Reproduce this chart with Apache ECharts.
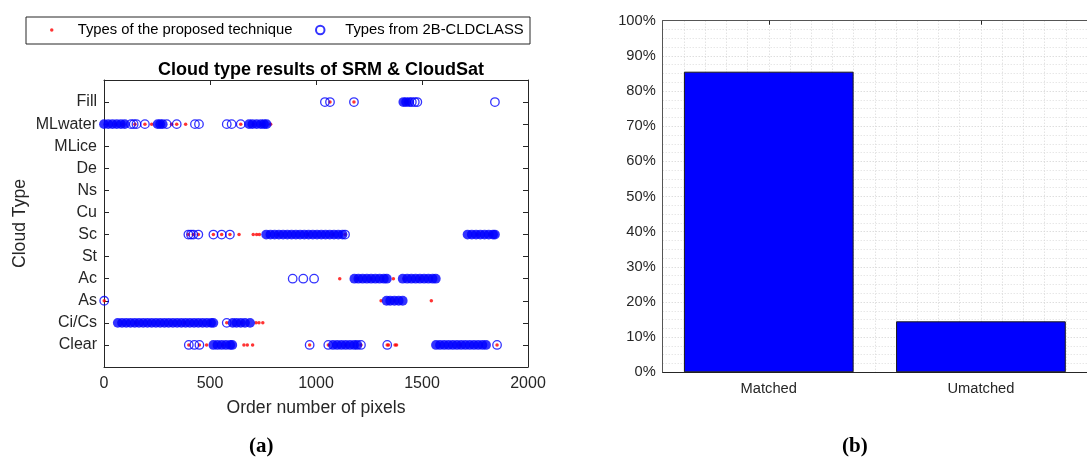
<!DOCTYPE html>
<html><head><meta charset="utf-8">
<script src="https://cdn.jsdelivr.net/npm/echarts@6/dist/echarts.min.js"></script>
<style>html,body{margin:0;padding:0;background:#fff}#c{width:1087px;height:462px}</style>
</head><body><div id="c"></div>
<script>
// ---------- Panel (a) data ----------
const cloudTypes = ['Clear', 'Ci/Cs', 'As', 'Ac', 'St', 'Sc', 'Cu', 'Ns', 'De', 'MLice', 'MLwater', 'Fill'];
const xTicks = [0, 500, 1000, 1500, 2000];

// Types of the proposed technique (red dots): pixel order numbers per type
const propClear   = [400, 450, 484, 560, 660, 676, 701, 970, 1058, 1140, 1212, 1336, 1342, 1373, 1380, 1680, 1854];
const propCiCs    = [150, 380, 579, 650, 717, 731, 749];
const propAs      = [1, 1307, 1370, 1544];
const propAc      = [1112, 1192, 1260, 1365, 1415, 1490];
const propSc      = [398, 421, 445, 516, 555, 594, 637, 704, 720, 733, 820, 960, 1080, 1137, 1760, 1820];
const propMLwater = [15, 55, 90, 146, 193, 225, 267, 319, 343, 385, 645, 705, 745, 786];
const propFill    = [1066, 1179, 1421, 1432];

// Types from 2B-CLDCLASS (blue circles), isolated pixels
const ringClear   = [400, 426, 450, 970, 1058, 1212, 1336, 1854];
const ringCiCs    = [579];
const ringAs      = [1];
const ringAc      = [890, 940, 991];
const ringSc      = [398, 410, 421, 445, 516, 555, 594, 1137];
const ringMLwater = [127, 140, 153, 193, 296, 343, 429, 448, 579, 602, 645];
const ringFill    = [1042, 1066, 1179, 1452, 1466, 1478, 1844];

// Types from 2B-CLDCLASS, densely packed runs of pixels
const denseClear   = [516, 535, 555, 575, 595, 605, 1080, 1100, 1120, 1140, 1160, 1180, 1195, 1566, 1585, 1605, 1625, 1645, 1665, 1685, 1705, 1725, 1745, 1765, 1785, 1802];
const denseCiCs    = [65, 85, 105, 125, 145, 165, 185, 205, 225, 245, 265, 285, 305, 325, 345, 365, 385, 405, 425, 445, 465, 485, 505, 516, 607, 625, 645, 665, 689];
const denseAs      = [1333, 1350, 1370, 1390, 1409];
const denseAc      = [1181, 1200, 1220, 1240, 1260, 1280, 1300, 1320, 1334, 1409, 1430, 1450, 1470, 1490, 1510, 1530, 1550, 1565];
const denseSc      = [765, 785, 805, 825, 845, 865, 885, 905, 925, 945, 965, 985, 1005, 1025, 1045, 1065, 1085, 1105, 1125, 1715, 1735, 1755, 1775, 1795, 1815, 1835, 1844];
const denseMLwater = [0, 20, 40, 60, 80, 98, 253, 265, 277, 684, 700, 720, 740, 755, 767];
const denseFill    = [1412, 1425, 1440];

// ---------- Panel (b) data ----------
const barCategories = ['Matched', 'Umatched'];
const barValues = [85.5, 14.5];
const percentTicks = [0, 10, 20, 30, 40, 50, 60, 70, 80, 90, 100];

// ---------- build ----------
const E = [];
const proposedByType = [propClear, propCiCs, propAs, propAc, E, propSc, E, E, E, E, propMLwater, propFill];
const ringByType = [ringClear, ringCiCs, ringAs, ringAc, E, ringSc, E, E, E, E, ringMLwater, ringFill];
const denseByType = [denseClear, denseCiCs, denseAs, denseAc, E, denseSc, E, E, E, E, denseMLwater, denseFill];
function toPoints(lists) {
  const pts = [];
  lists.forEach((xs, i) => xs.forEach(x => pts.push([x, i + 1])));
  return pts;
}
const FONT = 'Liberation Sans, Arial, Helvetica, sans-serif';
const AX = '#262626';
const NAME_A = 'Types of the proposed technique';
const NAME_B = 'Types from 2B-CLDCLASS';

const chart = echarts.init(document.getElementById('c'), null, {renderer: 'canvas'});
const option = {
  animation: false,
  backgroundColor: '#fff',
  textStyle: {fontFamily: FONT},
  title: {
    text: 'Cloud type results of SRM & CloudSat',
    left: 316, top: 56, textAlign: 'center',
    textStyle: {fontSize: 18, fontWeight: 'bold', color: '#000', fontFamily: FONT}
  },
  legend: [
    {data: [{name: NAME_A, icon: 'circle'}], left: 50, top: 22, padding: 0,
     itemWidth: 42, itemHeight: 3.5, symbolKeepAspect: true, selectedMode: false,
     textStyle: {fontSize: 14.8, color: '#000', fontFamily: FONT, lineHeight: 16}},
    {data: [{name: NAME_B, icon: 'circle'}], left: 315, top: 22, padding: 0,
     itemWidth: 40, itemHeight: 8.5, symbolKeepAspect: true, selectedMode: false,
     textStyle: {fontSize: 14.8, color: '#000', fontFamily: FONT, lineHeight: 16}}
  ],
  graphic: [
    {type: 'rect', left: 23.5, top: 14.5, shape: {width: 504, height: 27},
     style: {fill: 'none', stroke: AX, lineWidth: 1}, z: 10, silent: true},
    {type: 'text', left: 249, top: 436, style: {text: '(a)', font: 'bold 21px "Liberation Serif", "DejaVu Serif", serif', fill: '#000'}},
    {type: 'text', left: 842, top: 436, style: {text: '(b)', font: 'bold 21px "Liberation Serif", "DejaVu Serif", serif', fill: '#000'}}
  ],
  grid: [
    {left: 104, right: 559, top: 80, bottom: 95},
    {left: 662.7, right: -8, top: 20.7, bottom: 89.7}
  ],
  xAxis: [
    {gridIndex: 0, type: 'value', min: xTicks[0], max: xTicks[xTicks.length - 1], interval: 500, position: 'bottom',
     axisLine: {onZero: false, lineStyle: {color: AX}}, axisTick: {show: false},
     axisLabel: {fontSize: 16, color: AX, margin: 9, fontFamily: FONT, formatter: v => String(v)}, splitLine: {show: false},
     name: 'Order number of pixels', nameLocation: 'middle', nameGap: 32,
     nameTextStyle: {fontSize: 17.6, color: AX, fontFamily: FONT}},
    {gridIndex: 0, type: 'value', min: xTicks[0], max: xTicks[xTicks.length - 1], interval: 500, position: 'top',
     axisLine: {show: true, onZero: false, lineStyle: {color: AX}}, axisTick: {show: true, inside: true, length: 5, lineStyle: {color: AX}},
     axisLabel: {show: false}, splitLine: {show: false}},
    {gridIndex: 1, type: 'category', data: barCategories, position: 'bottom', boundaryGap: true,
     axisLine: {onZero: false, lineStyle: {color: AX}}, axisTick: {show: false},
     axisLabel: {fontSize: 14.7, color: AX, margin: 9, fontFamily: FONT}},
    {gridIndex: 1, type: 'category', data: barCategories, position: 'top', boundaryGap: true,
     axisLine: {show: true, onZero: false, lineStyle: {color: '#555'}},
     axisTick: {show: true, inside: true, length: 4, alignWithLabel: true, lineStyle: {color: AX}},
     axisLabel: {show: false}},
    {gridIndex: 1, type: 'value', min: 0.5, max: 2.5, interval: 0.1,
     axisLine: {show: false, onZero: false}, axisTick: {show: false}, axisLabel: {show: false},
     splitLine: {show: true, lineStyle: {color: '#d6d6d6', width: 1, type: [1, 2]}}}
  ],
  yAxis: [
    {gridIndex: 0, type: 'value', min: 0, max: 13, interval: 1,
     axisLine: {show: true, onZero: false, lineStyle: {color: AX}},
     axisTick: {show: true, inside: true, length: 5, lineStyle: {color: AX}},
     axisLabel: {fontSize: 16, color: AX, margin: 7, fontFamily: FONT, formatter: v => cloudTypes[v - 1] || ''},
     splitLine: {show: false},
     name: 'Cloud Type', nameLocation: 'middle', nameGap: 75,
     nameTextStyle: {fontSize: 17.6, color: AX, fontFamily: FONT}},
    {gridIndex: 0, type: 'value', min: 0, max: 13, interval: 1, position: 'right',
     axisLine: {show: true, onZero: false, lineStyle: {color: AX}},
     axisTick: {show: true, inside: true, length: 5, lineStyle: {color: AX}},
     axisLabel: {show: false}, splitLine: {show: false}},
    {gridIndex: 1, type: 'value', min: percentTicks[0], max: percentTicks[percentTicks.length - 1], interval: 10,
     axisLine: {show: true, onZero: false, lineStyle: {color: '#555'}}, axisTick: {show: false},
     axisLabel: {fontSize: 14.7, color: AX, margin: 7, fontFamily: FONT, formatter: '{value}%'},
     splitLine: {show: true, lineStyle: {color: '#cfcfcf', width: 1, type: [1, 2]}},
     minorTick: {show: false, splitNumber: 4},
     minorSplitLine: {show: true, lineStyle: {color: '#dcdcdc', width: 1, type: [1, 2]}}}
  ],
  series: [
    {type: 'scatter', name: NAME_A, xAxisIndex: 0, yAxisIndex: 0, data: toPoints(proposedByType),
     symbol: 'circle', symbolSize: 3.5, itemStyle: {color: '#ff0000'}, z: 2},
    {type: 'scatter', name: NAME_B, xAxisIndex: 0, yAxisIndex: 0, data: toPoints(ringByType),
     symbol: 'circle', symbolSize: 8.5,
     itemStyle: {color: 'rgba(0,0,0,0)', borderColor: '#0000ff', borderWidth: 1.3}, z: 3},
    {type: 'scatter', name: NAME_B, xAxisIndex: 0, yAxisIndex: 0, data: toPoints(denseByType),
     symbol: 'circle', symbolSize: 9.8, itemStyle: {color: '#0000ff', borderWidth: 0}, z: 3},
    {type: 'bar', name: 'Share', xAxisIndex: 2, yAxisIndex: 2, data: barValues, barWidth: '80%',
     itemStyle: {color: '#0000ff', borderColor: '#1a1a1a', borderWidth: 1}}
  ]
};
chart.setOption(option);
</script>
</body></html>
